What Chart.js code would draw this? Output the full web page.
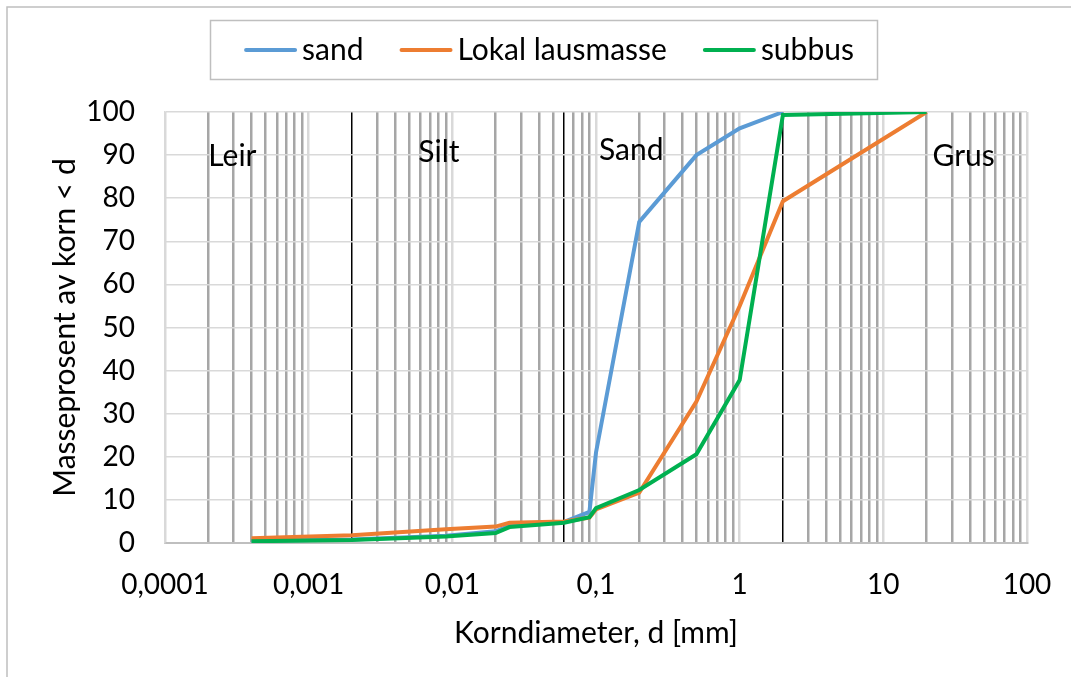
<!DOCTYPE html>
<html><head><meta charset="utf-8">
<script src="https://cdn.jsdelivr.net/npm/chart.js@4.4.1/dist/chart.umd.min.js"></script>
<style>html,body{margin:0;padding:0;background:#fff;overflow:hidden}#wrap{position:relative;width:1071px;height:677px}</style>
</head><body><div id="wrap"><canvas id="c" width="1071" height="677"></canvas></div>
<script>
// ---- data ----
const diameters     = [0.0004, 0.002, 0.009, 0.02, 0.025, 0.06, 0.09, 0.1, 0.2, 0.5, 1, 2, 20];
const sandValues    = [0.5, 0.8, 1.7, 2.7, 4.0, 4.9, 7.2, 21, 74.5, 90, 96.2, 100, null];
const lokalValues   = [1.1, 1.8, 3.2, 3.8, 4.7, 5.0, 5.9, 7.8, 11.7, 32.8, 55, 79.3, 100];
const subbusValues  = [0.4, 0.7, 1.5, 2.3, 3.7, 4.7, 6.0, 8.1, 12.3, 20.6, 37.8, 99.3, 100];
const seriesNames   = ['sand', 'Lokal lausmasse', 'subbus'];
const seriesColors  = ['#5B9BD5', '#ED7D31', '#00B050'];
const decadeValues  = [0.0001, 0.001, 0.01, 0.1, 1, 10, 100];
const xTickLabels   = ['0,0001', '0,001', '0,01', '0,1', '1', '10', '100'];
const boundaryValues = [0.002, 0.06, 2];
const zoneLabels    = ['Leir', 'Silt', 'Sand', 'Grus'];
const zoneLabelX    = [0.0002, 0.0058, 0.105, 22];
const zoneLabelY    = [89.6, 90.6, 91.2, 89.8];
const xTitle = 'Korndiameter, d [mm]';
const yTitle = 'Masseprosent av korn < d';

const FONT = 'Lato';
const FS = 28;   // tick labels
const FL = 30;   // titles, legend, zone labels
const same = (a, b) => Math.abs(Math.log10(a) - Math.log10(b)) < 1e-6;
const pts = vals => diameters.map((d, i) => ({x: d, y: vals[i]}));

const framePlugin = {
  id: 'frame',
  beforeDraw(chart) {
    const ctx = chart.ctx;
    ctx.save();
    ctx.fillStyle = '#fff';
    ctx.fillRect(0, 0, chart.width, chart.height);
    ctx.strokeStyle = '#bfbfbf';
    ctx.lineWidth = 1.5;
    ctx.strokeRect(7, 7, chart.width + 20, chart.height + 20);
    ctx.restore();
  }
};

const zonePlugin = {
  id: 'zones',
  beforeDatasetsDraw(chart) {
    const ctx = chart.ctx, xs = chart.scales.x, ys = chart.scales.y;
    ctx.save();
    ctx.fillStyle = '#000';
    ctx.font = FL + 'px ' + FONT;
    ctx.textAlign = 'left';
    ctx.textBaseline = 'middle';
    zoneLabels.forEach((t, i) => {
      ctx.fillText(t, xs.getPixelForValue(zoneLabelX[i]), ys.getPixelForValue(zoneLabelY[i]));
    });
    ctx.restore();
  }
};

const legendPlugin = {
  id: 'boxLegend',
  afterDraw(chart) {
    const ctx = chart.ctx;
    ctx.save();
    ctx.strokeStyle = '#bfbfbf';
    ctx.lineWidth = 1.5;
    ctx.strokeRect(210.5, 20.5, 667, 59);
    ctx.font = FL + 'px ' + FONT;
    ctx.textBaseline = 'middle';
    const lineLen = 53, gap = 5, sep = 36;
    const items = chart.data.datasets.map(ds => ({t: ds.label, c: ds.borderColor, w: ctx.measureText(ds.label).width}));
    let total = 0;
    items.forEach((it, i) => { total += lineLen + gap + it.w + (i < items.length - 1 ? sep : 0); });
    let x = 549 - total / 2;
    const y = 50;
    items.forEach(it => {
      ctx.strokeStyle = it.c;
      ctx.lineWidth = 4;
      ctx.lineCap = 'round';
      ctx.beginPath();
      ctx.moveTo(x + 2, y);
      ctx.lineTo(x + lineLen - 2, y);
      ctx.stroke();
      ctx.fillStyle = '#000';
      ctx.fillText(it.t, x + lineLen + gap, y);
      x += lineLen + gap + it.w + sep;
    });
    ctx.restore();
  }
};

const datasets = [sandValues, lokalValues, subbusValues].map((vals, i) => ({
  label: seriesNames[i],
  data: pts(vals),
  borderColor: seriesColors[i],
  backgroundColor: seriesColors[i],
  borderWidth: 4,
  pointRadius: 0,
  tension: 0,
  fill: false,
  spanGaps: false,
  order: 3 - i
}));

new Chart(document.getElementById('c'), {
  type: 'line',
  data: {datasets},
  options: {
    responsive: false,
    animation: false,
    devicePixelRatio: 1,
    layout: {padding: {left: 0, top: 112, right: 44, bottom: 0}},
    plugins: {legend: {display: false}, tooltip: {enabled: false}},
    scales: {
      x: {
        type: 'logarithmic',
        min: 0.0001, max: 100,
        afterBuildTicks(scale) {
          const t = [];
          decadeValues.slice(0, -1).forEach(d => {
            for (let m = 1; m <= 9; m++) t.push({value: +(m * d).toPrecision(6)});
          });
          t.push({value: decadeValues[decadeValues.length - 1]});
          scale.ticks = t;
        },
        afterFit(scale) { scale.height = 134; scale.paddingLeft = 0; scale.paddingRight = 0; },
        ticks: {
          autoSkip: false, maxRotation: 0, minRotation: 0, padding: 25,
          color: '#000', font: {family: FONT, size: FS},
          callback(v) { const i = decadeValues.findIndex(d => same(d, v)); return i >= 0 ? xTickLabels[i] : ''; }
        },
        grid: {
          drawTicks: false,
          color(ctx) {
            const v = ctx.tick && ctx.tick.value;
            if (v == null) return '#d9d9d9';
            if (boundaryValues.some(b => same(b, v))) return '#000';
            if (decadeValues.some(d => same(d, v))) return '#d9d9d9';
            return '#a6a6a6';
          },
          lineWidth(ctx) {
            const v = ctx.tick && ctx.tick.value;
            if (v != null && boundaryValues.some(b => same(b, v))) return 1.5;
            return 2.5;
          }
        },
        border: {color: '#bfbfbf', width: 2},
        title: {display: true, text: xTitle, color: '#000', font: {family: FONT, size: FL}, padding: {top: 0, bottom: 26}}
      },
      y: {
        min: 0, max: 100,
        afterFit(scale) { scale.width = 165; },
        ticks: {stepSize: 10, padding: 30, color: '#000', font: {family: FONT, size: FS}},
        grid: {color: '#d9d9d9', lineWidth: 1.5, drawTicks: false},
        border: {color: '#d9d9d9', width: 1.5},
        title: {display: true, text: yTitle, color: '#000', font: {family: FONT, size: FL}, padding: {top: 47, bottom: 0}}
      }
    }
  },
  plugins: [framePlugin, zonePlugin, legendPlugin]
});
</script>
</body></html>
